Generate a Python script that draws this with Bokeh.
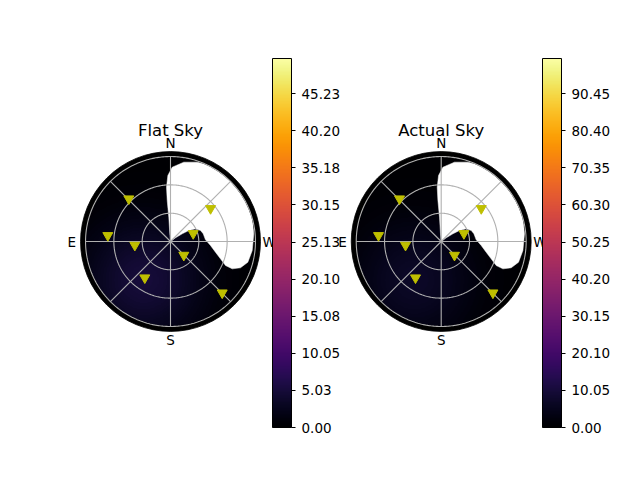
import numpy as np
from bokeh.plotting import figure
from bokeh.models import (Range1d, ColorBar, LinearColorMapper, FixedTicker,
                          NumeralTickFormatter)
from bokeh.palettes import Inferno256
from bokeh.embed import file_html
from bokeh.resources import INLINE
from bokeh.core.properties import value

# ---------------- data ----------------
titles = ["Flat Sky", "Actual Sky"]
compass_labels = ["N", "E", "S", "W"]
compass_az = [0, 90, 180, 270]

# star markers: azimuth (deg, N through E) and zenith distance (deg)
star_az = [44.3, 309.5, 289.4, 84.5, 95.9, 224.2, 144.7, 225.2]
star_zd = [63.2, 55.0, 25.5, 66.7, 38.0, 20.2, 47.1, 77.2]

# boundary of the masked (blank) region
mask_az = [358.7, 350.5, 341.4, 332.2, 321.8, 310.7, 298.7, 286.6, 275.3, 263.7,
           255.0, 249.4, 246.1, 246.4, 250.9, 256.6, 264.3, 272.8, 283.3, 290.1,
           296.9, 301.0, 303.3, 306.5, 0.0, 5.2, 4.0, 4.6, 4.2, 2.3]
mask_zd = [78.7, 85.2, 88.7, 91.0, 91.3, 90.9, 90.5, 90.3, 88.6, 87.1,
           84.8, 79.2, 71.5, 63.6, 56.0, 49.0, 42.6, 37.1, 35.6, 33.9,
           29.7, 22.6, 14.8, 6.6, 0.0, 8.2, 25.8, 43.6, 57.7, 70.0]

# sky brightness glow (peak value per panel, location and width)
glow_peak = [5.0, 7.0]
glow_az = 145.0
glow_zd = 50.0
glow_width = 45.0

cb_high = [50.0, 100.0]
cb_ticks = [
    [0.00, 5.03, 10.05, 15.08, 20.10, 25.13, 30.15, 35.18, 40.20, 45.23],
    [0.00, 10.05, 20.10, 30.15, 40.20, 50.25, 60.30, 70.35, 80.40, 90.45],
]
grid_zd = [30, 60, 90]
grid_spokes = [0, 45, 90, 135, 180, 225, 270, 315]

# ---------------- layout constants ----------------
S = 0.944                 # px per degree
W, H = 640, 480
C0X, C0Y = 170.0, 241.0   # left panel centre in px (from left, from top)
PANEL_DX = 270.7 / S      # horizontal offset of right panel (deg units)
cb_loc = [(272, 53), (542, 53)]
FONT = "DejaVu Sans"
R_OUT = 95.3

p = figure(width=W, height=H, output_backend="svg", toolbar_location=None,
           x_range=Range1d(-C0X / S, (W - C0X) / S),
           y_range=Range1d(-(H - C0Y) / S, C0Y / S),
           min_border=0, min_border_left=0, min_border_right=0,
           min_border_top=0, min_border_bottom=0)
p.axis.visible = False
p.grid.visible = False
p.outline_line_color = None
p.background_fill_color = "white"
p.border_fill_color = "white"


def proj(az, zd, off=0.0):
    a = np.radians(np.asarray(az, dtype=float))
    z = np.asarray(zd, dtype=float)
    return list(-z * np.sin(a) + off), list(z * np.cos(a))


for i in range(2):
    off = i * PANEL_DX
    mapper = LinearColorMapper(palette=Inferno256, low=0, high=cb_high[i],
                               nan_color="rgba(0,0,0,0)")

    # background sky image
    n = 300
    xs = np.linspace(-R_OUT, R_OUT, n)
    X, Y = np.meshgrid(xs, xs)
    gx, gy = proj([glow_az], [glow_zd])
    d2 = (X - gx[0]) ** 2 + (Y - gy[0]) ** 2
    img = glow_peak[i] * np.exp(-d2 / (2 * glow_width ** 2))
    img[np.hypot(X, Y) > 91.5] = np.nan
    p.image(image=[img], x=off - R_OUT, y=-R_OUT, dw=2 * R_OUT, dh=2 * R_OUT,
            color_mapper=mapper)

    # masked region
    mx, my = proj(mask_az, mask_zd, off)
    p.patch(x=mx, y=my, fill_color="white", line_color="white", line_width=0.5)

    # outer black ring
    p.annulus(x=[off], y=[0], inner_radius=90, outer_radius=R_OUT,
              fill_color="black", line_color="black", line_width=0.8)

    # grid
    th = np.linspace(0, 360, 361)
    gxs, gys = [], []
    for r in grid_zd:
        a, b = proj(th, np.full_like(th, r), off)
        gxs.append(a); gys.append(b)
    for az in grid_spokes:
        a, b = proj([az, az], [0, 90], off)
        gxs.append(a); gys.append(b)
    p.multi_line(xs=gxs, ys=gys, line_color="#b0b0b0", line_width=1.1)

    # stars
    sx, sy = proj(star_az, star_zd, off)
    p.scatter(x=sx, y=sy, marker="inverted_triangle", size=10,
              fill_color="#bfbf00", line_color="#bfbf00")

    # compass labels
    lx, ly = proj(compass_az, [104.5] * 4, off)
    p.text(x=lx, y=ly, text=compass_labels, text_align="center",
           text_baseline="middle", text_font=value(FONT),
           text_font_size="13.5px", text_color="black")

    # title
    p.text(x=[off], y=[117.6], text=[titles[i]], text_align="center",
           text_baseline="middle", text_font=value(FONT),
           text_font_size="16.5px", text_color="black")

    cb = ColorBar(color_mapper=mapper, ticker=FixedTicker(ticks=cb_ticks[i]),
                  formatter=NumeralTickFormatter(format="0.00"),
                  location=cb_loc[i], width=19, height=369, padding=0,
                  orientation="vertical", bar_line_color="black",
                  major_tick_in=0, major_tick_out=4,
                  major_tick_line_color="black", minor_tick_line_color=None,
                  label_standoff=6, major_label_text_font_size="13.5px",
                  major_label_text_font=FONT, major_label_text_color="black",
                  background_fill_color=None, border_line_color=None)
    p.add_layout(cb, "center")

open("out.html", "w").write(file_html(p, INLINE))
